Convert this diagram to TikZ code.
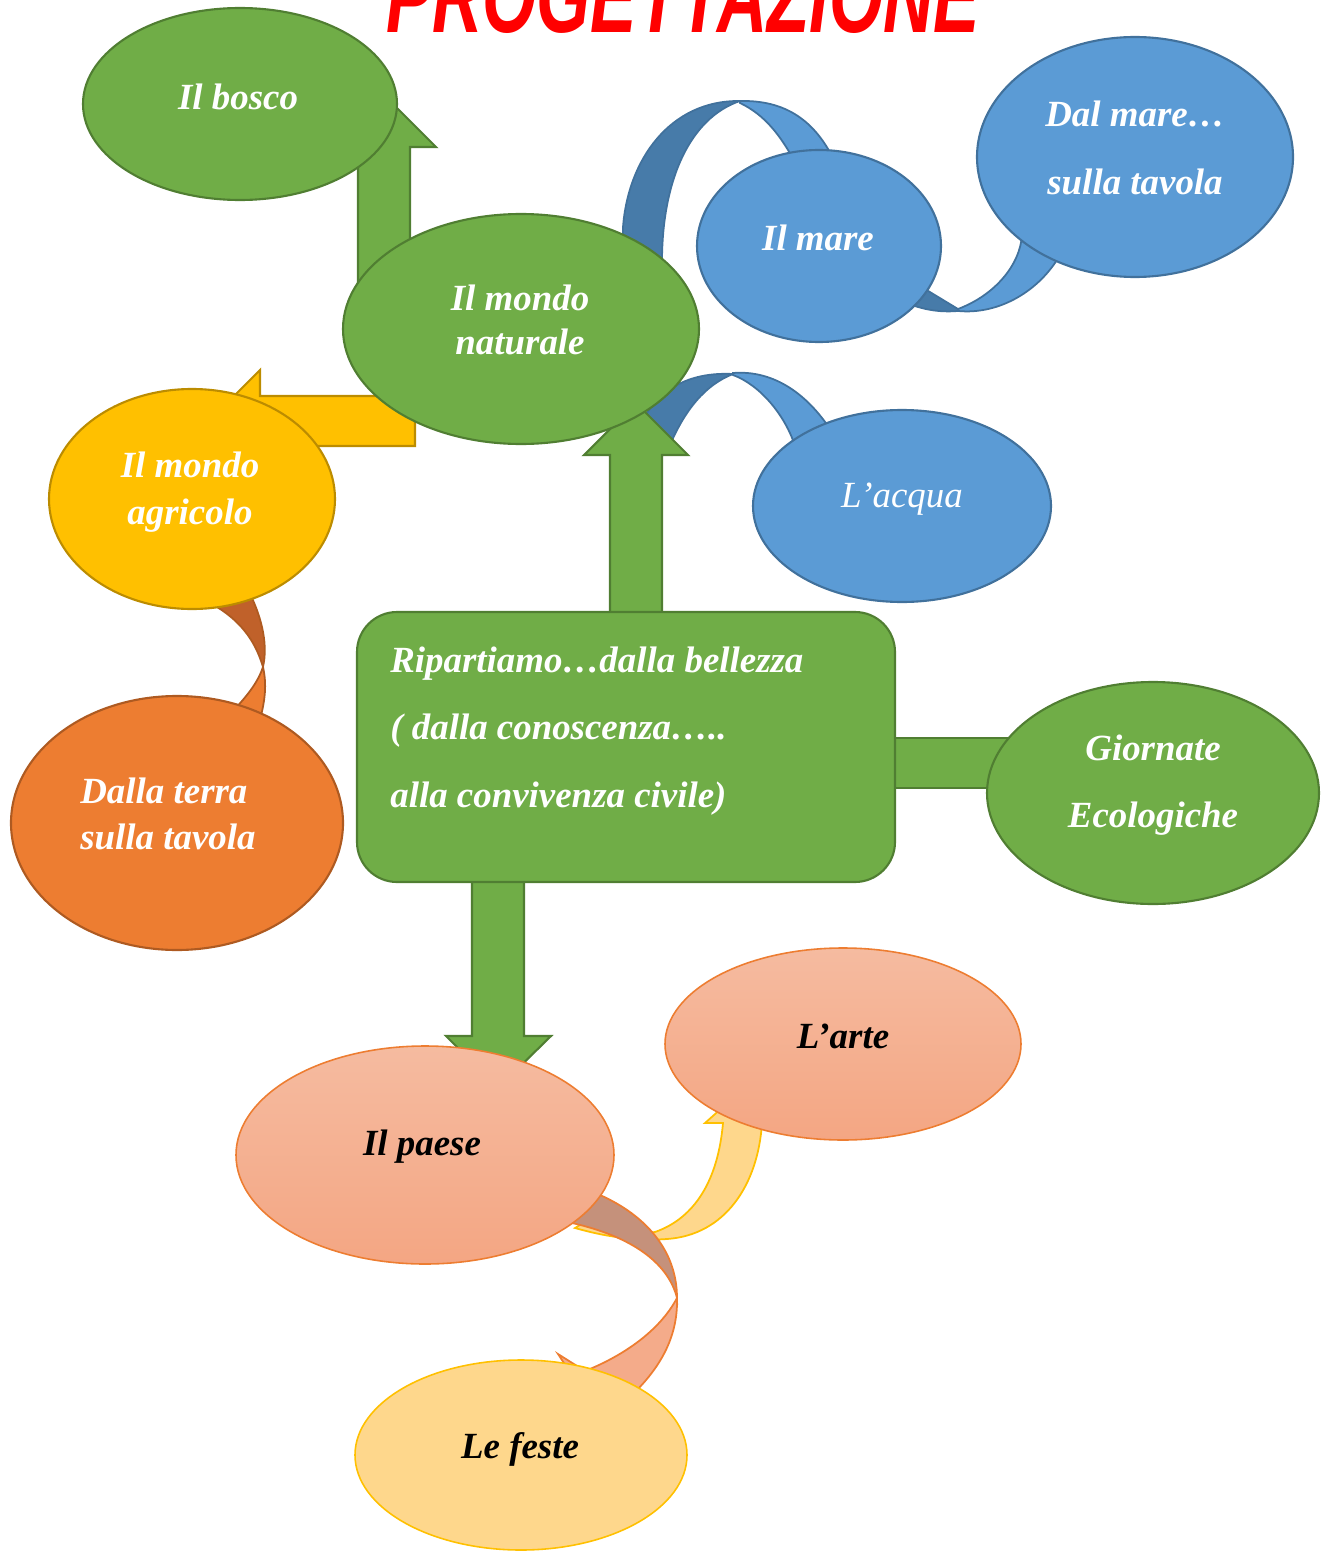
\documentclass[tikz,border=0pt]{standalone}
\usepackage{fontspec}
\setmainfont{Liberation Serif}
\newfontfamily\titlefont{Liberation Sans}
\usetikzlibrary{shapes.geometric}

\definecolor{cGreen}{HTML}{70AD47}
\definecolor{cGreenD}{HTML}{507E32}
\definecolor{cBlue}{HTML}{5B9BD5}
\definecolor{cBlueD}{HTML}{41719C}
\definecolor{cBlueBack}{HTML}{477BA9}
\definecolor{cYellow}{HTML}{FFC000}
\definecolor{cYellowD}{HTML}{BC8C00}
\definecolor{cOrange}{HTML}{ED7D31}
\definecolor{cOrangeD}{HTML}{AE5A21}
\definecolor{cOrangeBack}{HTML}{C0612A}
\definecolor{cSalmonTop}{HTML}{F5BBA0}
\definecolor{cSalmonBot}{HTML}{F4A683}
\definecolor{cSalmon}{HTML}{F4AB8A}
\definecolor{cBrown}{HTML}{C5917B}
\definecolor{cPale}{HTML}{FED78C}

\begin{document}
\begin{tikzpicture}[x=0.02cm,y=-0.02cm,
  esize/.style 2 args={minimum width=#1*0.02cm, minimum height=#2*0.02cm},
  bub/.style={ellipse, inner sep=0pt, line width=1.2pt},
  gbub/.style={bub, fill=cGreen, draw=cGreenD},
  bbub/.style={bub, fill=cBlue, draw=cBlueD},
  ybub/.style={bub, fill=cYellow, draw=cYellowD},
  obub/.style={bub, fill=cOrange, draw=cOrangeD},
  sbub/.style={bub, top color=cSalmonTop, bottom color=cSalmonBot, draw=cOrange, line width=0.9pt},
  pbub/.style={bub, fill=cPale, draw=cYellow, line width=0.9pt},
  garrow/.style={fill=cGreen, draw=cGreenD, line width=1.2pt, line join=miter},
  yarrow/.style={fill=cYellow, draw=cYellowD, line width=1.2pt, line join=miter},
  bribF/.style={fill=cBlue, draw=cBlueD, line width=1pt},
  bribB/.style={fill=cBlueBack, draw=cBlueD, line width=1pt},
  oribF/.style={fill=cOrange, draw=cOrangeD, line width=1pt},
  oribB/.style={fill=cOrangeBack, draw=cOrangeD, line width=1pt},
  lbl/.style={font=\fontsize{21}{25.5}\selectfont\bfseries\itshape, text=white, align=center, inner sep=0pt},
  blbl/.style={lbl, text=black},
]
\useasboundingbox (0,0) rectangle (1325,1551);
\clip (0,0) rectangle (1325,1551);

% title, its upper part runs off the page
\node[anchor=base, font=\titlefont\bfseries\itshape\fontsize{60}{60}\selectfont,
      text=red, xscale=0.66] (title) at (683,33) {PROGETTAZIONE};

% ---- ribbon arrows (behind the bubbles) ----
% mondo naturale -> il mare
\filldraw[bribB] (623,262) -- (623,227) .. controls (628,160) and (670,100) .. (740,101)
   .. controls (690,118) and (662,180) .. (662,262) -- cycle;
\filldraw[bribF] (740,101) .. controls (785,100) and (815,120) .. (835,162)
   -- (795,162) .. controls (780,135) and (765,115) .. (740,103) -- cycle;
% il mare -> dal mare
\filldraw[bribB] (915,283) -- (958,309) -- (958,311) .. controls (945,312) and (925,312) .. (900,300) -- cycle;
\filldraw[bribF] (958,311) .. controls (1000,315) and (1040,290) .. (1060,255)
   -- (1022,235) .. controls (1020,265) and (995,295) .. (958,309) -- cycle;
% mondo naturale -> l'acqua
\filldraw[bribB] (640,430) -- (647,413) .. controls (665,385) and (695,372) .. (733,374)
   .. controls (705,385) and (685,410) .. (670,445) -- cycle;
\filldraw[bribF] (733,373) .. controls (770,370) and (805,390) .. (832,432)
   -- (795,446) .. controls (785,415) and (760,385) .. (733,375) -- cycle;
% mondo agricolo -> dalla terra
\filldraw[oribB] (210,598) -- (250,590) -- (252,598) .. controls (262,620) and (268,645) .. (263,667)
   .. controls (255,640) and (240,620) .. (212,604) -- cycle;
\filldraw[oribF] (263,667) .. controls (267,685) and (265,700) .. (260,720)
   -- (232,712) .. controls (248,695) and (258,682) .. (263,667) -- cycle;
% il paese -> l'arte
\filldraw[fill=cPale, draw=cYellow, line width=1pt]
   (575,1228) .. controls (610,1238) and (640,1241) .. (667,1239)
   .. controls (725,1235) and (758,1185) .. (762,1123) -- (775,1123) -- (742,1090)
   -- (705,1123) -- (723,1123) .. controls (718,1180) and (695,1218) .. (655,1232)
   .. controls (630,1235) and (600,1228) .. (585,1222) -- cycle;
% il paese -> le feste
\filldraw[fill=cBrown, draw=cOrange, line width=1pt]
   (560,1200) -- (600,1195) .. controls (645,1215) and (677,1250) .. (677,1298)
   .. controls (668,1262) and (630,1236) .. (572,1223) -- cycle;
\filldraw[fill=cSalmon, draw=cOrange, line width=1pt]
   (677,1298) .. controls (678,1335) and (662,1365) .. (635,1392)
   -- (590,1380) -- (585,1395) -- (558,1354) -- (585,1371)
   .. controls (625,1355) and (660,1330) .. (677,1298) -- cycle;

% ---- block arrows ----
\filldraw[garrow] (358,300) -- (358,147) -- (332,147) -- (384,95) -- (436,147) -- (410,147) -- (410,300) -- cycle;
\filldraw[garrow] (610,614) -- (610,455) -- (584,455) -- (636,403) -- (688,455) -- (662,455) -- (662,614) -- cycle;
\filldraw[yarrow] (415,396) -- (260,396) -- (260,370) -- (209,421) -- (260,472) -- (260,446) -- (415,446) -- cycle;
\filldraw[garrow] (472,880) -- (472,1036) -- (446,1036) -- (498,1088) -- (551,1036) -- (524,1036) -- (524,880) -- cycle;
\filldraw[garrow] (890,738) rectangle (1010,788);

% ---- bubbles ----
\node[gbub, esize={314}{192}] (bosco) at (240,104) {};
\node[gbub, esize={356}{230}] (naturale) at (521,329) {};
\node[bbub, esize={244}{192}] (mare) at (819,246) {};
\node[bbub, esize={316}{240}] (dalmare) at (1135,157) {};
\node[bbub, esize={298}{192}] (acqua) at (902,506) {};
\node[ybub, esize={286}{220}] (agricolo) at (192,499) {};
\node[obub, esize={332}{254}] (terra) at (177,823) {};
\node[gbub, esize={332}{222}] (giornate) at (1153,793) {};
\node[sbub, esize={378}{218}] (paese) at (425,1155) {};
\node[sbub, esize={356}{192}] (arte) at (843,1044) {};
\node[pbub, esize={332}{190}] (feste) at (521,1455) {};
\node[draw=cGreenD, fill=cGreen, line width=1.2pt, rounded corners=0.8cm,
      esize={538}{270}] (hub) at (626,747) {};

% ---- labels ----
\node[lbl] (tBosco) at (238,97) {Il bosco};
\node[lbl] (tNaturale) at (520,320) {Il mondo\\naturale};
\node[lbl] (tMare) at (818,238) {Il mare};
\node[lbl, font=\fontsize{21}{39}\selectfont\bfseries\itshape] (tDalMare) at (1135,148) {Dal mare…\\sulla tavola};
\node[lbl, font=\fontsize{21}{25.5}\selectfont\itshape] (tAcqua) at (902,499) {L’acqua};
\node[lbl, font=\fontsize{21}{26.5}\selectfont\bfseries\itshape] (tAgricolo) at (190,492) {Il mondo\\agricolo};
\node[lbl, align=left, anchor=west, font=\fontsize{21}{26}\selectfont\bfseries\itshape] (tTerra) at (80,814) {Dalla terra\\sulla tavola};
\node[lbl, align=left, anchor=west, font=\fontsize{21}{38.6}\selectfont\bfseries\itshape] (tHub) at (390,731)
   {Ripartiamo…dalla bellezza\\( dalla conoscenza…..\\alla convivenza civile)};
\node[lbl, font=\fontsize{21}{38}\selectfont\bfseries\itshape] (tGiornate) at (1153,785) {Giornate\\Ecologiche};
\node[blbl] (tPaese) at (422,1147) {Il paese};
\node[blbl] (tArte) at (843,1036) {L’arte};
\node[blbl] (tFeste) at (520,1449) {Le feste};
\end{tikzpicture}
\end{document}
